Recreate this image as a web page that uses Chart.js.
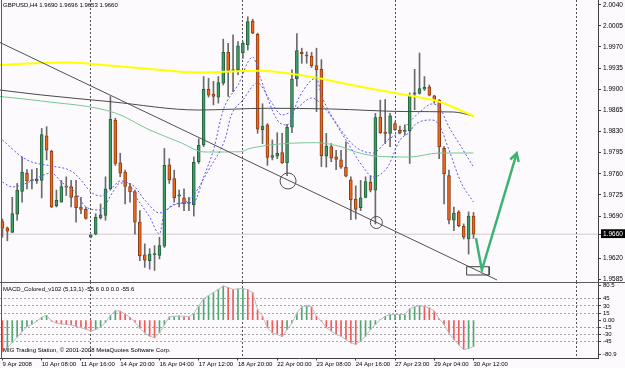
<!DOCTYPE html>
<html>
<head>
<meta charset="utf-8">
<script src="https://cdn.jsdelivr.net/npm/chart.js@4.4.1/dist/chart.umd.min.js"></script>
<style>
  body { margin: 0; background: #fdfafd; }
  #wrap { position: relative; width: 625px; height: 368px; overflow: hidden; font-family: "Liberation Sans", Arial, sans-serif; }
  .box { position: absolute; left: 0; width: 625px; }
  #mainBox { top: 0; height: 282px; }
  #macdBox { top: 276px; height: 92px; }
  .txt { position: absolute; left: 3px; font-size: 6px; line-height: 7px; color: #000; white-space: nowrap; }
  .rule { position: absolute; background: #5a5a5a; }
</style>
</head>
<body>
<div id="wrap">
  <div class="box" id="mainBox"><canvas id="mainChart"></canvas></div>
  <div class="box" id="macdBox"><canvas id="macdChart"></canvas></div>
  <div class="rule" style="left:0;top:282px;width:625px;height:1px"></div>
  <div class="rule" style="left:1px;top:0;width:1px;height:359px"></div>
  <div class="txt" style="top:2px">GBPUSD,H4 1.9690 1.9696 1.9653 1.9660</div>
  <div class="txt" style="top:286px">MACD_Colored_v102 (5,13,1) -55.6 0.0 0.0 -55.6</div>
  <div class="txt" style="top:347px">MIG Trading Station, © 2001-2008 MetaQuotes Software Corp.</div>
</div>
<script>
// GBPUSD H4 candles, 9 Apr - 30 Apr 2008
const opens = [1.9681,1.9670,1.9663,1.9693,1.9731,1.9761,1.9748,1.9748,1.9749,1.9823,
  1.9797,1.9707,1.9713,1.9739,1.9739,1.9723,1.9705,1.9701,1.9655,1.9660,
  1.9687,1.9691,1.9735,1.9849,1.9778,1.9763,1.9739,1.9730,1.9680,1.9626,
  1.9616,1.9626,1.9625,1.9640,1.9775,1.9752,1.9723,1.9720,1.9711,1.9709,
  1.9780,1.9808,1.9900,1.9892,1.9887,1.9910,1.9961,1.9932,1.9932,1.9960,
  1.9974,2.0013,1.9991,1.9833,1.9841,1.9787,1.9789,1.9795,1.9778,1.9837,
  1.9917,1.9961,1.9956,1.9955,1.9939,1.9933,1.9789,1.9805,1.9788,1.9783,
  1.9771,1.9750,1.9718,1.9704,1.9721,1.9746,1.9733,1.9854,1.9829,1.9827,
  1.9843,1.9832,1.9830,1.9831,1.9892,1.9893,1.9900,1.9904,1.9889,1.9882,
  1.9802,1.9757,1.9683,1.9697,1.9673,1.9652,1.9690];
const highs = [1.9685,1.9672,1.9721,1.9744,1.9788,1.9767,1.9767,1.9769,1.9835,1.9838,
  1.9799,1.9733,1.9749,1.9755,1.9749,1.9749,1.9721,1.9705,1.9659,1.9694,
  1.9710,1.9755,1.9888,1.9852,1.9794,1.9766,1.9744,1.9733,1.9699,1.9644,
  1.9636,1.9641,1.9655,1.9802,1.9785,1.9766,1.9733,1.9735,1.9721,1.9788,
  1.9818,1.9921,1.9918,1.9913,1.9921,1.9983,1.9976,1.9990,1.9979,1.9979,
  2.0020,2.0016,1.9993,1.9876,1.9843,1.9816,1.9828,1.9827,1.9842,1.9932,
  1.9992,1.9968,1.9962,1.9961,1.9968,1.9949,1.9827,1.9810,1.9799,1.9799,
  1.9813,1.9755,1.9740,1.9749,1.9755,1.9757,1.9860,1.9882,1.9883,1.9860,
  1.9846,1.9839,1.9841,1.9894,1.9933,1.9960,1.9921,1.9907,1.9890,1.9883,
  1.9805,1.9766,1.9705,1.9699,1.9677,1.9697,1.9696];
const lows = [1.9655,1.9649,1.9663,1.9683,1.9713,1.9735,1.9735,1.9744,1.9720,1.9783,
  1.9704,1.9705,1.9713,1.9724,1.9705,1.9680,1.9694,1.9685,1.9654,1.9659,
  1.9685,1.9683,1.9733,1.9774,1.9755,1.9710,1.9713,1.9660,1.9616,1.9605,
  1.9602,1.9600,1.9619,1.9638,1.9744,1.9713,1.9705,1.9699,1.9699,1.9690,
  1.9777,1.9805,1.9887,1.9874,1.9877,1.9907,1.9888,1.9896,1.9924,1.9951,
  1.9965,1.9992,1.9827,1.9810,1.9774,1.9783,1.9785,1.9777,1.9757,1.9828,
  1.9905,1.9943,1.9943,1.9936,1.9863,1.9772,1.9771,1.9780,1.9767,1.9769,
  1.9755,1.9684,1.9685,1.9699,1.9720,1.9730,1.9677,1.9827,1.9810,1.9805,
  1.9832,1.9826,1.9824,1.9777,1.9866,1.9892,1.9898,1.9889,1.9877,1.9785,
  1.9710,1.9677,1.9666,1.9672,1.9652,1.9627,1.9653];
const closes = [1.9670,1.9665,1.9694,1.9733,1.9763,1.9748,1.9750,1.9751,1.9825,1.9799,
  1.9705,1.9716,1.9739,1.9738,1.9721,1.9704,1.9701,1.9686,1.9659,1.9688,
  1.9692,1.9735,1.9850,1.9777,1.9761,1.9739,1.9730,1.9680,1.9624,1.9617,
  1.9627,1.9628,1.9641,1.9774,1.9750,1.9720,1.9725,1.9710,1.9712,1.9779,
  1.9807,1.9900,1.9890,1.9888,1.9911,1.9961,1.9931,1.9931,1.9972,1.9976,
  2.0012,1.9993,1.9834,1.9839,1.9787,1.9790,1.9794,1.9778,1.9837,1.9917,
  1.9964,1.9959,1.9955,1.9939,1.9932,1.9790,1.9806,1.9786,1.9784,1.9771,
  1.9756,1.9717,1.9701,1.9720,1.9747,1.9733,1.9853,1.9828,1.9827,1.9856,
  1.9833,1.9828,1.9832,1.9890,1.9894,1.9901,1.9903,1.9890,1.9882,1.9805,
  1.9760,1.9683,1.9695,1.9674,1.9655,1.9690,1.9660];

// MACD_Colored (5,13,1) histogram
const macdValues = [-66,-58,-47,-36,-24,-14,-9,-2,6,10,
  -2,-6,-8,-9,-10,-13,-16,-19,-23,-20,
  -14,-5,10,20,19,13,6,-4,-17,-27,
  -34,-37,-27,-10,7,8,9,8,7,14,
  30,45,52,58,65,72,69,65,66,67,
  64,58,22,8,-16,-27,-30,-35,-20,-6,
  15,28,30,28,8,-2,-16,-23,-30,-34,
  -41,-48,-51,-44,-34,-20,-9,1,8,12,
  12,12,12,24,28,31,29,26,19,3,
  -9,-27,-41,-52,-62,-60,-55.6];

// moving averages as [bar, price] points
const yellowMA = [[-0.5,1.99401],[8,1.99435],[13,1.99443],[23,1.99385],[30,1.99335],[40,1.99277],
  [52.5,1.99307],[60.5,1.99236],[64.5,1.99181],[73,1.99042],[78.5,1.98959],[83.5,1.98888],[89,1.98794],[96,1.98557]];
const darkMA = [[-0.5,1.98987],[8,1.98905],[22,1.98794],[40,1.98656],[54,1.98685],[67,1.98673],
  [82,1.98631],[92,1.98623],[96,1.98557]];
const greenMA = [[-0.5,1.98880],[8,1.98805],[23,1.98607],[30,1.98325],[36.5,1.98110],[40,1.97977],
  [42,1.97961],[48.5,1.97965],[50.5,1.98022],[64,1.98115],[69,1.98048],[72,1.97961],[77,1.97886],
  [83,1.97878],[89,1.97944],[96,1.97944]];
const dottedFast = [[0,1.98160],[4,1.97878],[6,1.97795],[10,1.97729],[14,1.97646],[16,1.97497],[18,1.97299],
  [20,1.97232],[22.5,1.97381],[24,1.97481],[26,1.97414],[27,1.97249],[30,1.96884],[32,1.96603],[33,1.96951],
  [37,1.97116],[39,1.97133],[41,1.97547],[43,1.97994],[45,1.98656],[48,1.99070],[51,1.99534],[52.5,1.99203],
  [56,1.98491],[58,1.98408],[60.5,1.98872],[64,1.99186],[65,1.98905],[69,1.98325],[72,1.98044],[75.5,1.97944],
  [78.5,1.98160],[81,1.98292],[82,1.98375],[85.5,1.98656],[87.5,1.98756],[89,1.98706],[91,1.98375],
  [93,1.98110],[96,1.97713]];
const dottedSlow = [[0,1.97464],[2,1.97381],[5,1.97448],[7,1.97530],[10,1.97613],[12,1.97464],[15,1.97282],
  [17,1.97050],[20,1.97000],[22.5,1.97299],[24,1.97448],[26.5,1.97414],[29,1.97166],[32,1.96951],[35,1.97083],
  [38,1.97166],[39,1.97249],[42,1.97663],[45.5,1.98209],[46.5,1.98541],[49,1.98822],[52,1.99104],[54.5,1.98822],
  [57,1.98574],[60,1.98690],[63,1.98855],[66,1.98656],[70,1.98160],[73.5,1.97713],[75.5,1.97547],[78.5,1.97713],
  [81,1.98160],[83,1.98292],[84,1.98408],[87.5,1.98491],[89,1.98408],[91,1.97994],[93.5,1.97448],[96,1.97133]];

// hand drawn objects on the chart
const trendLine = [[-0.5,1.99774],[100.8,1.95841]];
const circleMarks = [[58.2,1.97481],[76.2,1.96793]];
const boxMark = [[94.6,1.96061],[99.2,1.96061],[99.2,1.95924],[94.6,1.95924],[94.6,1.96061]];
const arrowPath = [[96.5,1.96532],[97.7,1.96007],[104.8,1.97939]];
const arrowHead = [[103.5,1.97837],[104.8,1.97939],[105.2,1.97794]];

const priceTickLabels = ['2.0040','2.0005','1.9970','1.9935','1.9900','1.9865','1.9830','1.9795',
  '1.9760','1.9725','1.9690','1.9620','1.9585'];
const macdTickValues = [80.5, 45, 30, 15, 0, -15, -30, -45, -80.9];
const macdTickLabels = ['80.5','45','30','15','0.00','-15','-30','-45','-80.9'];
const timeLabels = ['9 Apr 2008','10 Apr 08:00','11 Apr 16:00','14 Apr 20:00','16 Apr 04:00','17 Apr 12:00',
  '18 Apr 20:00','22 Apr 00:00','23 Apr 08:00','24 Apr 16:00','27 Apr 23:00','29 Apr 04:00','30 Apr 12:00'];
const LABEL_STEP = 8;            // one time label every 8 bars
const weekStarts = [18, 49, 80, 117];

const X_MIN = -0.5, X_MAX = 121.37;
const lastClose = closes[closes.length - 1];
const isBull = closes.map((c, i) => c >= opens[i]);

Chart.defaults.font.family = "'Liberation Sans', Arial, sans-serif";
Chart.defaults.color = '#000';

const toXY = pairs => pairs.map(([x, y]) => ({ x, y }));
// stop Chart.js from shrinking the plot for label overhang
function noPad(s) { s.paddingTop = 0; s.paddingBottom = 0; s.paddingLeft = 0; s.paddingRight = 0; }

function lineSet(pairs, color, width, extra) {
  return Object.assign({
    type: 'line', data: toXY(pairs), borderColor: color, borderWidth: width,
    pointRadius: 0, fill: false, cubicInterpolationMode: 'monotone', order: 2
  }, extra || {});
}

new Chart(document.getElementById('mainChart'), {
  type: 'bar',
  data: {
    datasets: [
      lineSet(arrowHead, '#3cb371', 2.5, { order: 0, cubicInterpolationMode: 'default' }),
      lineSet(arrowPath, '#3cb371', 2.5, { order: 0, cubicInterpolationMode: 'default' }),
      lineSet(boxMark, '#404040', 1, { order: 0, cubicInterpolationMode: 'default' }),
      {
        type: 'line', data: toXY(circleMarks), showLine: false, order: 0,
        pointStyle: 'circle', pointRadius: [8, 6], pointBorderWidth: 1,
        pointBorderColor: '#505050', pointBackgroundColor: 'rgba(0,0,0,0)'
      },
      lineSet(trendLine, '#505050', 1, { order: 1, cubicInterpolationMode: 'default' }),
      lineSet(dottedFast, '#5a5aee', 1, { borderDash: [2, 2], order: 1 }),
      lineSet(dottedSlow, '#5a5aee', 1, { borderDash: [2, 2], order: 1 }),
      lineSet(yellowMA, '#ffff00', 2),
      lineSet(darkMA, '#4a4a4a', 1),
      lineSet(greenMA, '#74c896', 1),
      lineSet([[X_MIN, lastClose], [X_MAX, lastClose]], '#cfc8cc', 1, { order: 8 }),
      {
        // candle bodies
        type: 'bar', order: 5, grouped: false,
        data: closes.map((c, i) => ({ x: i, y: [opens[i], c] })),
        backgroundColor: isBull.map(b => b ? '#3e9e66' : '#f06818'),
        borderColor: isBull.map(b => b ? '#24603e' : '#8e3c12'),
        borderWidth: 1, borderSkipped: false, barThickness: 3, minBarLength: 1
      },
      {
        // wicks
        type: 'bar', order: 6, grouped: false,
        data: closes.map((c, i) => ({ x: i, y: [lows[i], highs[i]] })),
        backgroundColor: '#6a6a6a', barThickness: 1
      }
    ]
  },
  options: {
    responsive: true, maintainAspectRatio: false, animation: false, events: [],
    layout: { padding: 0, autoPadding: false },
    plugins: { legend: { display: false }, tooltip: { enabled: false } },
    scales: {
      x: {
        type: 'linear', min: X_MIN, max: X_MAX, offset: false,
        afterBuildTicks: s => { s.ticks = weekStarts.map(v => ({ value: v })); },
        afterFit: s => { s.height = 0; noPad(s); },
        ticks: { display: false },
        grid: { offset: false, color: '#505050', drawTicks: false },
        border: { display: false, dash: [2, 2] }
      },
      y: {
        position: 'right', min: 1.95808, max: 2.00478,
        afterBuildTicks: s => {
          s.ticks = priceTickLabels.map(t => ({ value: +t })).concat({ value: lastClose })
            .sort((a, b) => a.value - b.value);
        },
        afterFit: s => { s.width = 27; noPad(s); },
        ticks: {
          autoSkip: false, padding: 2, crossAlign: 'near', font: { size: 6.5 },
          callback: v => v.toFixed(4),
          color: ctx => (ctx.tick && ctx.tick.value === lastClose) ? '#fff' : '#000',
          showLabelBackdrop: ctx => !!(ctx.tick && ctx.tick.value === lastClose),
          backdropColor: '#000', backdropPadding: { top: 1, bottom: 0, left: 2, right: 4 }
        },
        grid: { drawOnChartArea: false, tickLength: 3, tickColor: '#404040' },
        border: { color: '#404040' }
      }
    }
  }
});

// MACD sub window + time scale
const macdXY = macdValues.map((v, i) => ({ x: i, y: v }));
const macdColors = macdValues.map((v, i) => (i === 0 || v < macdValues[i - 1]) ? '#f05a5a' : '#52a874');
const labelBars = timeLabels.map((t, i) => i * LABEL_STEP);
const timeTicks = Array.from(new Set(labelBars.concat(weekStarts))).sort((a, b) => a - b);

new Chart(document.getElementById('macdChart'), {
  type: 'bar',
  data: {
    datasets: [
      { type: 'line', data: macdXY, borderColor: '#bdbdbd', borderWidth: 1, pointRadius: 0, order: 1 },
      { type: 'bar', data: macdXY, backgroundColor: macdColors, barThickness: 1, grouped: false, order: 2 }
    ]
  },
  options: {
    responsive: true, maintainAspectRatio: false, animation: false, events: [],
    layout: { padding: { top: 6 }, autoPadding: false },
    plugins: { legend: { display: false }, tooltip: { enabled: false } },
    scales: {
      x: {
        type: 'linear', min: X_MIN, max: X_MAX, offset: false,
        afterBuildTicks: s => { s.ticks = timeTicks.map(v => ({ value: v })); },
        afterFit: s => { s.height = 9.5; noPad(s); },
        ticks: {
          autoSkip: false, maxRotation: 0, minRotation: 0, align: 'start', padding: 0,
          font: { size: 6 },
          callback: v => (v % LABEL_STEP === 0 && v / LABEL_STEP < timeLabels.length) ? timeLabels[v / LABEL_STEP] : ''
        },
        grid: {
          offset: false,
          color: ctx => (ctx.tick && weekStarts.includes(ctx.tick.value)) ? '#505050' : 'rgba(0,0,0,0)',
          tickColor: ctx => (ctx.tick && labelBars.includes(ctx.tick.value)) ? '#404040' : 'rgba(0,0,0,0)',
          tickLength: 2
        },
        border: { color: '#404040', dash: [2, 2] }
      },
      y: {
        position: 'right', min: -80.9, max: 80.5,
        afterBuildTicks: s => {
          const inset = (s.max - s.min) * 0.05;
          s.ticks = macdTickValues.map((v, i) => ({
            value: i === 0 ? v - inset : (i === macdTickValues.length - 1 ? v + inset : v)
          }));
        },
        afterFit: s => { s.width = 27; noPad(s); },
        ticks: { autoSkip: false, padding: 2, crossAlign: 'near', font: { size: 6 }, callback: (v, i) => macdTickLabels[i] },
        grid: {
          color: ctx => [1, 2, 3, 5, 6, 7].includes(ctx.index) ? '#a4a4a4' : 'rgba(0,0,0,0)',
          tickLength: 3, tickColor: '#404040'
        },
        border: { color: '#404040', dash: [2, 2] }
      }
    }
  }
});
</script>
</body>
</html>
